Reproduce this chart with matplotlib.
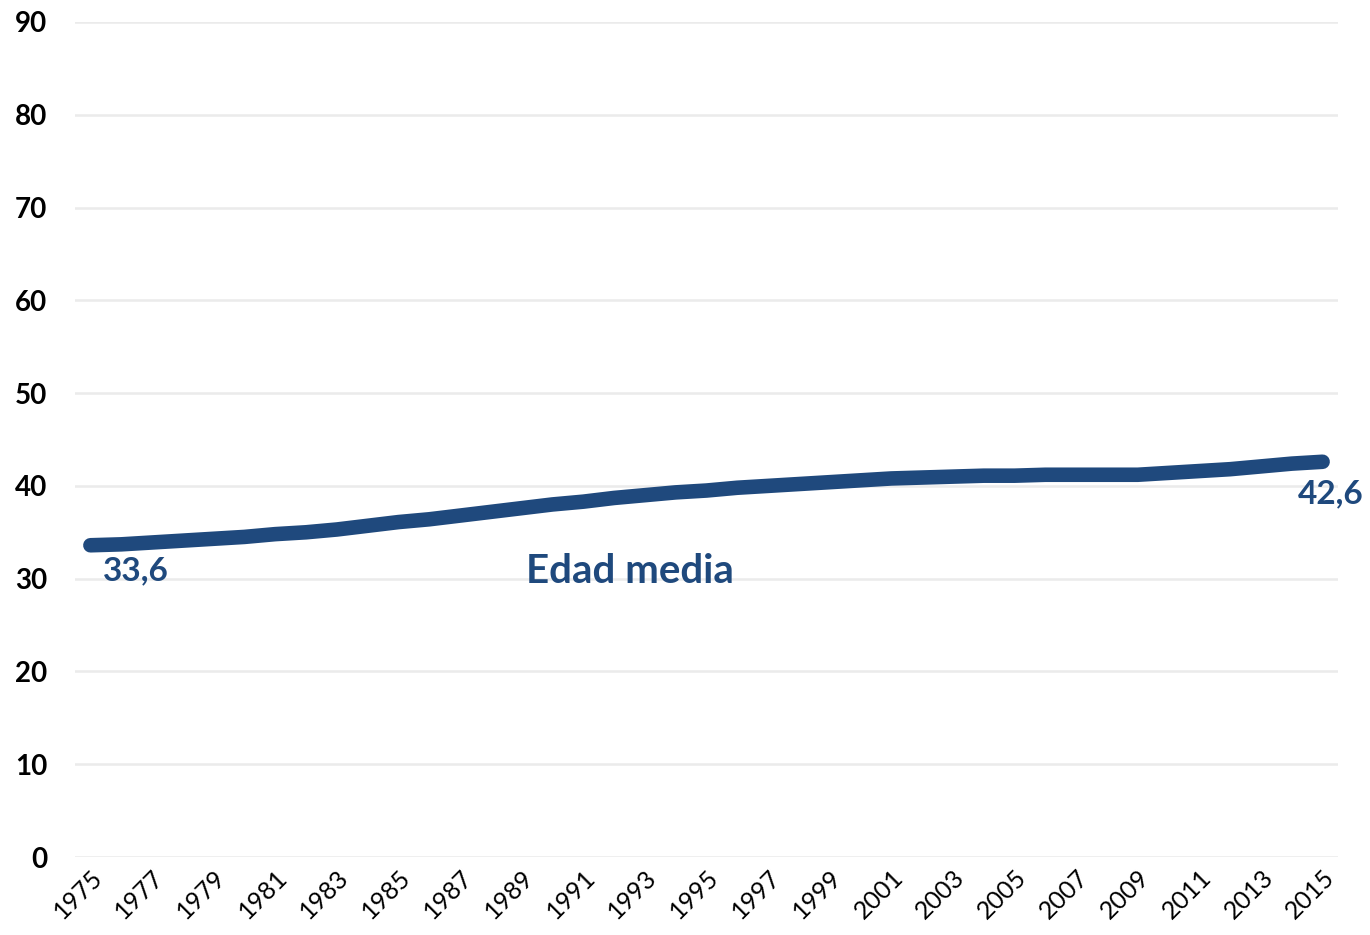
import matplotlib
matplotlib.use("Agg")
import matplotlib.pyplot as plt

years = list(range(1975, 2016))
edad_media = [33.6, 33.7, 33.9, 34.1, 34.3, 34.5, 34.8, 35.0, 35.3, 35.7,
              36.1, 36.4, 36.8, 37.2, 37.6, 38.0, 38.3, 38.7, 39.0, 39.3,
              39.5, 39.8, 40.0, 40.2, 40.4, 40.6, 40.8, 40.9, 41.0, 41.1,
              41.1, 41.2, 41.2, 41.2, 41.2, 41.4, 41.6, 41.8, 42.1, 42.4, 42.6]
series_label = "Edad media"
y_ticks = [0, 10, 20, 30, 40, 50, 60, 70, 80, 90]
x_tick_years = years[::2]

COLOR = "#1F497D"
FONT = ["Lato", "DejaVu Sans"]

fig = plt.figure(figsize=(13.7, 9.35), dpi=100)
ax = fig.add_axes([75/1370, 78/935, 1263/1370, 835/935])

ax.plot(years, edad_media, color=COLOR, lw=10.5, solid_capstyle="round",
        solid_joinstyle="round", zorder=3)

ax.set_xlim(1974.5, 2015.5)
ax.set_ylim(0, 90)
ax.set_yticks(y_ticks)
ax.set_yticklabels([str(v) for v in y_ticks], fontsize=20, fontweight="bold",
                   family=FONT)
ax.set_xticks(x_tick_years)
ax.set_xticklabels([str(y) for y in x_tick_years], rotation=45, ha="right",
                   va="top", rotation_mode="anchor", fontsize=18, family=FONT)
ax.tick_params(axis="both", length=0)
ax.tick_params(axis="y", pad=20)
ax.tick_params(axis="x", pad=6)

ax.grid(axis="y", color="#EBEBEB", lw=1.8)
ax.set_axisbelow(True)
for s in ax.spines.values():
    s.set_visible(False)

ax.text(years[0] + 0.4, edad_media[0] - 1.2, f"{edad_media[0]:.1f}".replace(".", ","),
        color=COLOR, fontsize=24, fontweight="bold", family=FONT,
        ha="left", va="top")
ax.text(years[-1] + 0.25, edad_media[-1] - 1.9, f"{edad_media[-1]:.1f}".replace(".", ","),
        color=COLOR, fontsize=24, fontweight="bold", family=FONT,
        ha="center", va="top")
ax.text(1992.5, 30.8, series_label, color=COLOR, fontsize=29,
        fontweight="bold", family=FONT, ha="center", va="center")

fig.savefig("out.png", dpi=100)
